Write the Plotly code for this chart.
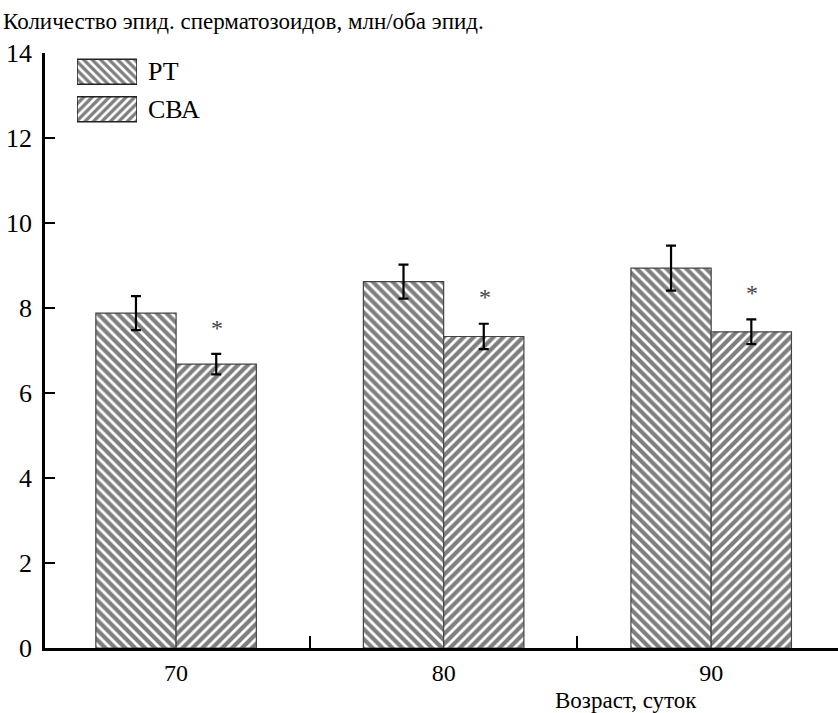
import plotly.graph_objects as go

# Возраст (сутки) и количество эпидидимальных сперматозоидов, млн/оба эпид.
ages = ["70", "80", "90"]
rt_values = [7.88, 8.62, 8.94]
rt_errors = [0.40, 0.40, 0.53]
cba_values = [6.68, 7.33, 7.44]
cba_errors = [0.24, 0.30, 0.29]
significant = [True, True, True]

legend_names = ["РТ", "СВА"]
y_ticks = [0, 2, 4, 6, 8, 10, 12, 14]

FONT = "Liberation Serif"
W, H = 838, 713
L, R, T, B = 45, 0, 53, 65
plot_w = W - L - R
plot_h = H - T - B


def px_x(p):
    return (p - L) / plot_w


def px_y(p):
    return min(1.0, (H - B - p) / plot_h)


bar_marker = dict(color="white", line=dict(color="#444444", width=1.2))
hatch = dict(fgcolor="black", bgcolor="white", size=7, solidity=0.6)

fig = go.Figure()
fig.add_trace(go.Bar(
    x=ages, y=rt_values, name=legend_names[0],
    marker=dict(**bar_marker, pattern=dict(shape="\\", **hatch)),
    error_y=dict(type="data", array=rt_errors, color="black", thickness=2.2, width=5),
    showlegend=False,
))
fig.add_trace(go.Bar(
    x=ages, y=cba_values, name=legend_names[1],
    marker=dict(**bar_marker, pattern=dict(shape="/", **hatch)),
    error_y=dict(type="data", array=cba_errors, color="black", thickness=2.2, width=5),
    showlegend=False,
))

# Legend swatches: hatched boxes on a small auxiliary axis
fig.add_trace(go.Bar(
    x=[1, 1], y=[1, 0], orientation="h", width=0.667,
    xaxis="x2", yaxis="y2", hoverinfo="skip", showlegend=False,
    marker=dict(color="white", line=dict(color="#222222", width=1.5),
                pattern=dict(shape=["\\", "/"], fgcolor="black", bgcolor="white",
                             size=6, solidity=0.55)),
))

annotations = []
for i, name in enumerate(legend_names):
    annotations.append(dict(
        text=name, xref="paper", yref="y2", x=px_x(146), y=1 - i,
        xanchor="left", yanchor="middle", showarrow=False,
        font=dict(family=FONT, size=26, color="black"),
    ))

# Significance markers above the СВА bars (category index on the x axis)
for i in range(len(ages)):
    if significant[i]:
        annotations.append(dict(
            text="*", x=i, y=cba_values[i] + cba_errors[i] + 0.62,
            xref="x", yref="y", xshift=41, showarrow=False,
            font=dict(family=FONT, size=24, color="#444444"),
        ))

annotations.append(dict(
    text="Количество эпид. сперматозоидов, млн/оба эпид.",
    xref="paper", yref="paper", x=px_x(1), y=(H - B - 22) / plot_h,
    xanchor="left", yanchor="middle", showarrow=False,
    font=dict(family=FONT, size=23, color="black"),
))
annotations.append(dict(
    text="Возраст, суток",
    xref="paper", yref="paper", x=px_x(553), y=px_y(700),
    xanchor="left", yanchor="middle", showarrow=False,
    font=dict(family=FONT, size=23, color="black"),
))

fig.update_layout(
    width=W, height=H,
    margin=dict(l=L, r=R, t=T, b=B, pad=0),
    paper_bgcolor="white", plot_bgcolor="white",
    barmode="group", bargap=0.4, bargroupgap=0,
    font=dict(family=FONT, size=22, color="black"),
    annotations=annotations,
    xaxis=dict(
        type="category", range=[-0.49, 2.474],
        showline=True, linecolor="black", linewidth=3,
        ticks="inside", ticklen=12, tickwidth=2, tickcolor="black",
        tickson="boundaries", showgrid=False, zeroline=False,
        tickfont=dict(family=FONT, size=24), ticklabelstandoff=1,
    ),
    yaxis=dict(
        range=[0, 14], tickvals=y_ticks,
        showline=True, linecolor="black", linewidth=2.5,
        ticks="inside", ticklen=10, tickwidth=2, tickcolor="black",
        showgrid=False, zeroline=False,
        tickfont=dict(family=FONT, size=26), ticklabelstandoff=5,
    ),
    xaxis2=dict(domain=[px_x(77), px_x(137)], range=[0, 1], visible=False,
                anchor="y2", fixedrange=True),
    yaxis2=dict(domain=[px_y(128), px_y(53)], range=[-0.5, 1.5], visible=False,
                anchor="x2", fixedrange=True),
)

fig.write_html("out.html")
